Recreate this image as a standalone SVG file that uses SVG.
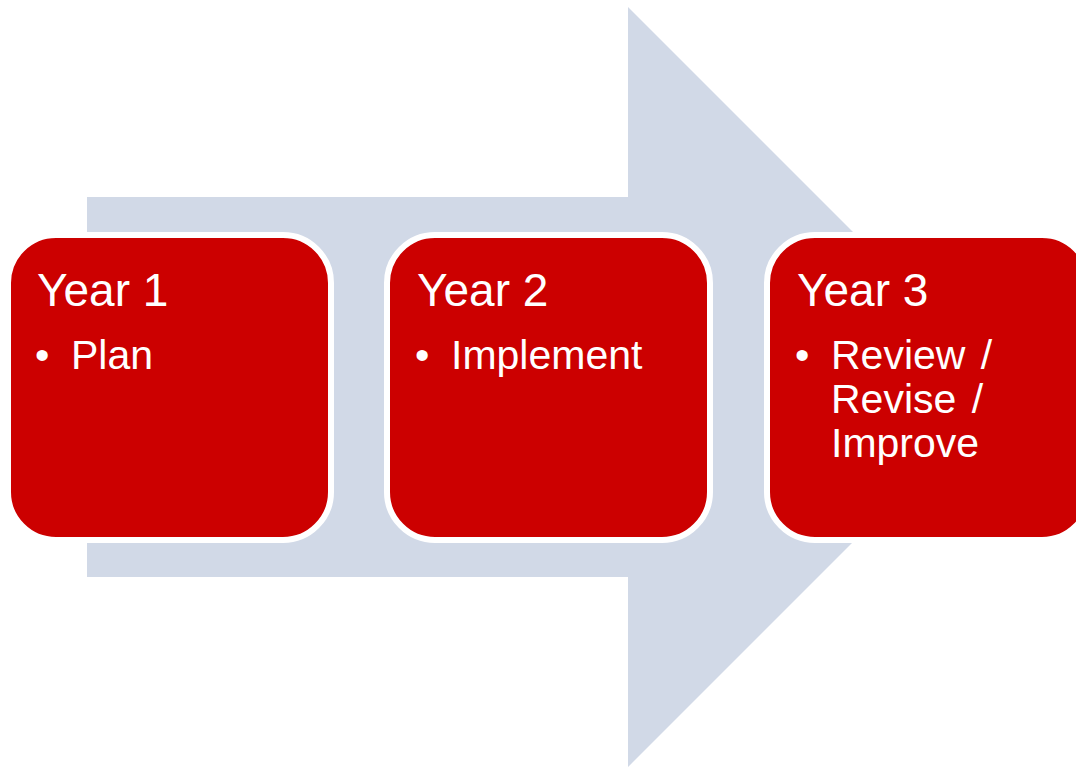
<svg xmlns="http://www.w3.org/2000/svg" width="1076" height="769" viewBox="0 0 1076 769">
  <style>
    .box { fill: #CC0000; stroke: #FFFFFF; stroke-width: 6; }
    .title { font-family: "Liberation Sans", Arial, sans-serif; font-size: 46px; fill: #FFFFFF; }
    .body { font-family: "Liberation Sans", Arial, sans-serif; font-size: 41px; fill: #FFFFFF; }
  </style>
  <rect x="0" y="0" width="1076" height="769" fill="#FFFFFF"/>
  <g id="connectors">
    <polygon id="arrow" points="87,197 628,197 628,7 1008,387 628,767 628,577 87,577" fill="#D1D9E7"/>
  </g>
  <g id="year1">
    <rect class="box" x="8" y="235" width="323" height="305" rx="48" ry="48"/>
    <text class="title" x="37" y="306">Year 1</text>
    <text class="body" y="369"><tspan x="35">•</tspan><tspan x="71">Plan</tspan></text>
  </g>
  <g id="year2">
    <rect class="box" x="387" y="235" width="323" height="305" rx="48" ry="48"/>
    <text class="title" x="417" y="306">Year 2</text>
    <text class="body" y="369"><tspan x="415">•</tspan><tspan x="451">Implement</tspan></text>
  </g>
  <g id="year3">
    <rect class="box" x="767" y="235" width="323" height="305" rx="48" ry="48"/>
    <text class="title" x="797" y="306">Year 3</text>
    <text class="body" word-spacing="4"><tspan x="795" y="369">•</tspan><tspan x="831" y="369">Review /</tspan><tspan x="831" y="413">Revise /</tspan><tspan x="831" y="457">Improve</tspan></text>
  </g>
</svg>
